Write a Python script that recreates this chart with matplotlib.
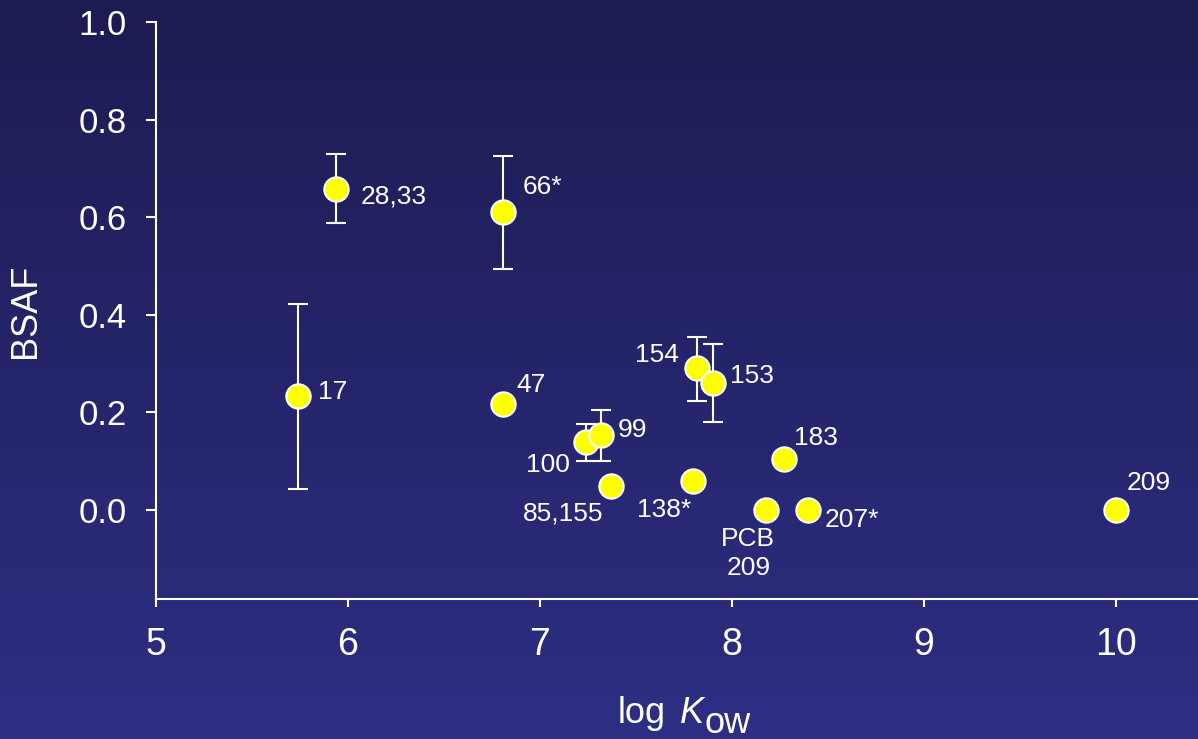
import numpy as np
import matplotlib
matplotlib.use('Agg')
import matplotlib.pyplot as plt

plt.rcParams['font.family'] = ['Liberation Sans', 'DejaVu Sans']

# PCB congeners: log Kow vs BSAF
names = ['17', '28,33', '66*', '47', '100', '99', '85,155', '138*',
         '154', '153', '183', 'PCB\n209', '207*', '209']
log_kow = [5.74, 5.94, 6.81, 6.81, 7.24, 7.32, 7.37, 7.80,
           7.82, 7.90, 8.27, 8.18, 8.40, 10.0]
bsaf = [0.234, 0.658, 0.611, 0.217, 0.140, 0.154, 0.049, 0.060,
        0.290, 0.261, 0.104, 0.001, 0.0, 0.0]
err_low = [0.190, 0.070, 0.117, 0, 0.039, 0.053, 0, 0,
           0.066, 0.080, 0, 0, 0, 0]
err_high = [0.188, 0.072, 0.114, 0, 0.036, 0.051, 0, 0,
            0.065, 0.079, 0, 0, 0, 0]

# label offsets in pixels (dx, dy, ha)
label_pos = [(20, 4, 'left'), (24, -8, 'left'), (19, 25, 'left'),
             (13, 19, 'left'), (-16, -23, 'right'), (17, 5, 'left'),
             (-7, -27, 'right'), (-2, -29, 'right'), (-18, 13, 'right'),
             (17, 7, 'left'), (10, 21, 'left'), (-18, -44, 'center'),
             (16, -10, 'left'), (11, 27, 'left')]

W, H = 1198, 739
fig = plt.figure(figsize=(W / 100, H / 100), dpi=100)

# gradient background
bg = fig.add_axes([0, 0, 1, 1], zorder=-10)
top = np.array([28, 28, 82]) / 255
bot = np.array([46, 46, 132]) / 255
t = np.linspace(0, 1, 256)[:, None]
grad = top[None, :] * (1 - t) + bot[None, :] * t
bg.imshow(grad[:, None, :], aspect='auto', extent=[0, 1, 0, 1])
bg.axis('off')

x0, x1 = 155.7, W
y0, y1 = 599, 22
ax = fig.add_axes([x0 / W, 1 - y0 / H, (x1 - x0) / W, (y0 - y1) / H])
ax.patch.set_alpha(0)

x = np.array(log_kow)
y = np.array(bsaf)
lo = np.array(err_low)
hi = np.array(err_high)
m = (lo > 0) | (hi > 0)

ax.errorbar(x[m], y[m], yerr=[lo[m], hi[m]], fmt='none', ecolor='white',
            elinewidth=1.5, capsize=7.5, capthick=1.5, zorder=2)
ax.plot(x, y, 'o', color='#ffff00', markersize=17.5, markeredgecolor='white',
        markeredgewidth=1.5, linestyle='none', zorder=3)

for xi, yi, name, (dx, dy, ha) in zip(x, y, names, label_pos):
    ax.annotate(name, (xi, yi), xytext=(dx, dy), textcoords='offset pixels',
                ha=ha, va='center', color='white', fontsize=19,
                multialignment='center', linespacing=1.3)

ax.set_xlim(5, 5 + (x1 - x0) / 192)
ax.set_ylim(-(y0 - 510) / 488, 1.0)
ax.set_xticks([5, 6, 7, 8, 9, 10])
ax.set_yticks([0, 0.2, 0.4, 0.6, 0.8, 1.0])
ax.set_yticklabels(['0.0', '0.2', '0.4', '0.6', '0.8', '1.0'])

for s in ['top', 'right']:
    ax.spines[s].set_visible(False)
for s in ['left', 'bottom']:
    ax.spines[s].set_color('white')
    ax.spines[s].set_linewidth(1.5)

ax.tick_params(axis='y', colors='white', labelsize=25, length=7, width=1.5,
               pad=14, direction='out')
ax.tick_params(axis='x', colors='white', labelsize=27, length=6, width=1.5,
               pad=14, direction='out')

ax.set_ylabel('BSAF', color='white', fontsize=26)
ax.yaxis.set_label_coords(-0.108, 0.5)

# x label: "log K_ow" with full-size subscript
fig.text(618 / W, 1 - 723 / H, 'log', color='white', fontsize=26,
         ha='left', va='baseline')
fig.text(680 / W, 1 - 723 / H, 'K', color='white', fontsize=26,
         style='italic', ha='left', va='baseline')
fig.text(704 / W, 1 - 733 / H, 'ow', color='white', fontsize=26,
         ha='left', va='baseline')

fig.savefig('out.png', dpi=100)
